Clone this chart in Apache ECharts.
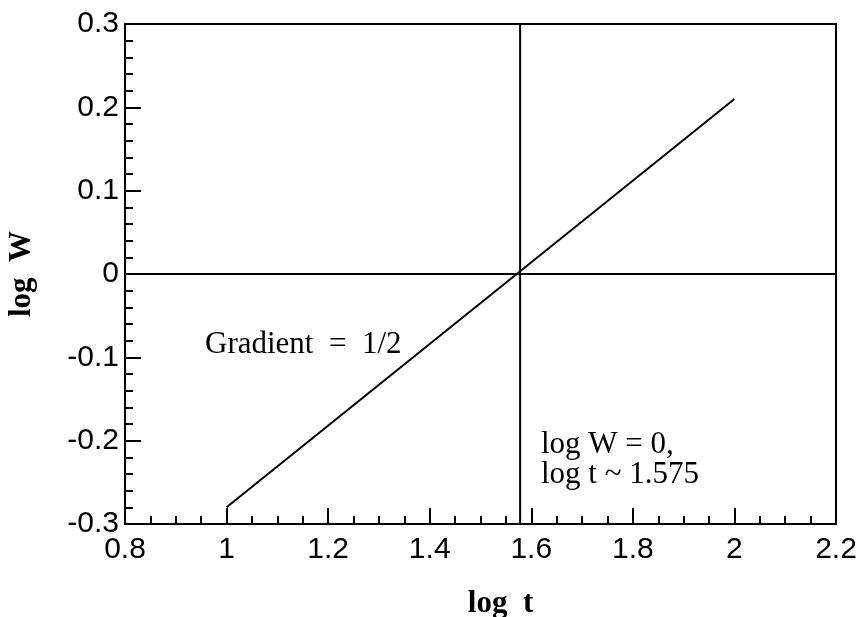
<!DOCTYPE html>
<html>
<head>
<meta charset="utf-8">
<script src="https://cdn.jsdelivr.net/npm/echarts@6/dist/echarts.min.js"></script>
<style>html,body{margin:0;padding:0;background:#fff}#c{width:864px;height:617px}</style>
</head>
<body>
<div id="c"></div>
<script>
// Data
var xTicks = [0.8, 1, 1.2, 1.4, 1.6, 1.8, 2, 2.2];
var yTicks = [-0.3, -0.2, -0.1, 0, 0.1, 0.2, 0.3];
var fitLine = [[1, -0.28], [2, 0.21]];
var crossX = 1.578;
var verticalLine = [[crossX, -0.3], [crossX, 0.3]];
var horizontalLine = [[0.8, 0], [2.2, 0]];
var gradientText = 'Gradient  =  1/2';
var noteText = 'log W = 0,\nlog t ~ 1.575';

var chart = echarts.init(document.getElementById('c'));
function fmt(v){ return String(Math.round(v*10)/10); }
var sans = 'Liberation Sans, Arial, sans-serif';
var serif = 'Liberation Serif, Times New Roman, serif';
var lineStyle = {color:'#000', width:2};
chart.setOption({
  animation:false,
  backgroundColor:'#fff',
  grid:{left:125, right:28, top:24, bottom:93, outerBoundsMode:'none', containLabel:false,
        show:true, borderColor:'#000', borderWidth:2, backgroundColor:'transparent'},
  xAxis:{
    type:'value', min:xTicks[0], max:xTicks[xTicks.length-1], interval:0.2,
    axisLine:{onZero:false, lineStyle:{color:'#000', width:2}},
    axisTick:{inside:true, length:16, lineStyle:{color:'#000', width:2}},
    minorTick:{show:true, splitNumber:4, length:8, lineStyle:{color:'#000', width:2}},
    splitLine:{show:false},
    axisLabel:{formatter:fmt, color:'#000', fontSize:30, fontFamily:sans, margin:11},
    name:'log  t', nameLocation:'middle', nameGap:64,
    nameTextStyle:{color:'#000', fontSize:31, fontWeight:'bold', fontFamily:serif, padding:[0,0,0,40]}
  },
  yAxis:{
    type:'value', min:yTicks[0], max:yTicks[yTicks.length-1], interval:0.1,
    axisLine:{onZero:false, lineStyle:{color:'#000', width:2}},
    axisTick:{inside:true, length:16, lineStyle:{color:'#000', width:2}},
    minorTick:{show:true, splitNumber:5, length:8, lineStyle:{color:'#000', width:2}},
    splitLine:{show:false},
    axisLabel:{formatter:fmt, color:'#000', fontSize:30, fontFamily:sans, margin:6},
    name:'log  W', nameLocation:'middle', nameGap:88,
    nameTextStyle:{color:'#000', fontSize:31, fontWeight:'bold', fontFamily:serif}
  },
  series:[
    {type:'line', data:fitLine, symbol:'none', lineStyle:lineStyle, silent:true},
    {type:'line', data:verticalLine, symbol:'none', lineStyle:lineStyle, silent:true},
    {type:'line', data:horizontalLine, symbol:'none', lineStyle:lineStyle, silent:true}
  ],
  graphic:[
    {type:'text', left:205, top:329, style:{text:gradientText, fill:'#000', fontSize:31, fontFamily:serif}},
    {type:'text', left:541, top:429, style:{text:noteText, fill:'#000', fontSize:31, fontFamily:serif, lineHeight:30}}
  ]
});
</script>
</body>
</html>
